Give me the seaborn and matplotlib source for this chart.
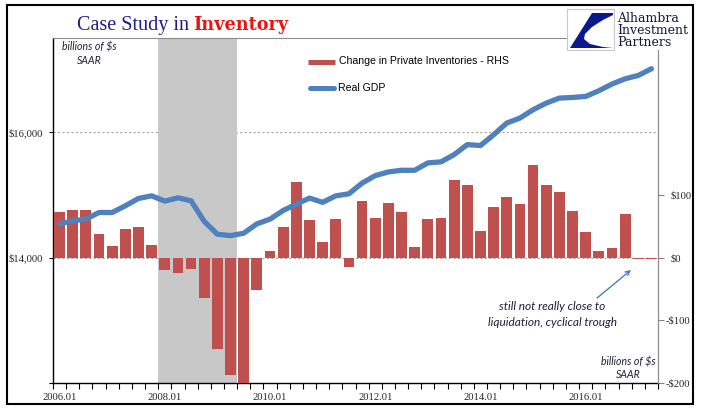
import numpy as np
import pandas as pd
import matplotlib
matplotlib.use("Agg")
import matplotlib.pyplot as plt
import matplotlib.transforms as mtransforms
import seaborn as sns
from matplotlib.lines import Line2D
from matplotlib.patches import Rectangle, Polygon

# ---------------- data ----------------
quarters = [f"{y}.0{q}" for y in range(2006, 2018) for q in range(1, 5)][:46]
tick_labels = ["2006.01", "2008.01", "2010.01", "2012.01", "2014.01", "2016.01"]

# Change in private inventories, billions of $ SAAR (RHS)
inventories = [73, 76, 76, 38, 19, 46, 48, 20,
               -20, -25, -19, -65, -146, -188, -205, -51,
               11, 49, 120, 60, 25, 62, -15, 90,
               63, 87, 73, 17, 62, 63, 124, 115,
               43, 81, 97, 86, 147, 116, 105, 75,
               41, 11, 15, 69, -2, -2]

# Real GDP, billions of $ SAAR (LHS)
real_gdp = [14537, 14585, 14612, 14718, 14718, 14825, 14942, 14984,
            14900, 14952, 14904, 14575, 14372, 14350, 14388, 14537,
            14612, 14750, 14852, 14948, 14880, 14984, 15016, 15187,
            15306, 15365, 15391, 15391, 15509, 15525, 15641, 15800,
            15786, 15957, 16144, 16223, 16356, 16462, 16542, 16552,
            16568, 16659, 16766, 16850, 16903, 17010]

recession = ("2008.01", "2009.02")

left_ticks = [12000, 14000, 16000]
left_labels = ["", "$14,000", "$16,000"]
right_ticks = [-200, -100, 0, 100]
right_labels = ["-$200", "-$100", "$0", "$100"]

# ---------------- style ----------------
sns.set_style("white")
plt.rcParams["font.family"] = ["Liberation Serif", "DejaVu Serif"]

RED = "#C0504D"
BLUE = "#4F81BD"
NAVY = "#1C1C84"
W, H = 705, 409

def fx(px):
    return px / W

def fy(py):
    return 1 - py / H

fig = plt.figure(figsize=(W / 100, H / 100), dpi=100)
fig.patch.set_facecolor("white")

ax = fig.add_axes([fx(53), fy(383), 605 / W, 345 / H])
ax.set_facecolor("white")

df = pd.DataFrame({"quarter": quarters, "inv": inventories,
                   "gdp": real_gdp, "pos": np.arange(len(quarters))})

# recession shading
r0 = quarters.index(recession[0]) - 0.5
r1 = quarters.index(recession[1]) + 0.5
ax.axvspan(r0, r1, color="#C8C8C8", lw=0, zorder=1)

# dashed gridlines (left-axis 14,000 and 16,000 ~ right 0 and 200)
for yv in (0, 200):
    ax.axhline(yv, color="#A6A6A6", lw=0.8, ls=(0, (2, 2)), zorder=0.5)

sns.barplot(data=df, x="quarter", y="inv", color=RED, saturation=1,
            width=0.82, ax=ax, zorder=3, linewidth=0)

ax.set_xlim(-0.5, len(quarters) - 0.5)
ax.set_ylim(-200, 350)

major_pos = [quarters.index(t) for t in tick_labels]
ax.set_xticks(major_pos)
ax.set_xticklabels(tick_labels)
ax.set_xticks(np.arange(-0.5, len(quarters), 1), minor=True)
ax.tick_params(axis="x", which="major", length=0, labelsize=7.7, pad=7)
ax.tick_params(axis="x", which="minor", length=4, width=0.8,
               color="black", direction="out", bottom=True)
ax.set_xlabel("")
ax.set_ylabel("")

for s in ("top", "right"):
    ax.spines[s].set_visible(False)
ax.spines["left"].set_color("black")
ax.spines["left"].set_linewidth(1.0)
ax.spines["bottom"].set_color("black")
ax.spines["bottom"].set_linewidth(1.0)

# GDP line on left axis
ax2 = ax.twinx()
sns.lineplot(data=df, x="pos", y="gdp", ax=ax2, color=BLUE, lw=3.8,
             solid_capstyle="round", zorder=5)
ax2.set_ylim(12000, 17500)
ax2.set_xlim(-0.5, len(quarters) - 0.5)
ax2.set_xlabel("")
ax2.set_ylabel("")
for s in ax2.spines.values():
    s.set_visible(False)

# axis placement after twinx: bars axis on the right, GDP axis on the left
ax.yaxis.tick_right()
ax.yaxis.set_label_position("right")
ax.set_yticks(right_ticks)
ax.set_yticklabels(right_labels)
ax.tick_params(axis="y", which="both", direction="out", length=4, width=0.8,
               color="#808080", labelsize=7.7, pad=5,
               right=True, left=False, labelright=True, labelleft=False)
# negative labels: minus sign hangs to the left of the "$"
shift = mtransforms.ScaledTranslation(-5 / 100, 0, fig.dpi_scale_trans)
for tick in ax.yaxis.get_major_ticks():
    if tick.label2.get_text().startswith("-"):
        tick.label2.set_transform(tick.label2.get_transform() + shift)

ax2.yaxis.tick_left()
ax2.yaxis.set_label_position("left")
ax2.set_yticks(left_ticks)
ax2.set_yticklabels(left_labels)
ax2.tick_params(axis="y", which="both", direction="out", length=3, width=0.8,
                color="black", labelsize=7.7, pad=4,
                left=True, right=False, labelleft=True, labelright=False)

# manual top and right plot borders (partly hidden by logo)
fig.add_artist(Line2D([fx(53), fx(566)], [fy(38), fy(38)], color="#8C8C8C", lw=0.8))
fig.add_artist(Line2D([fx(658), fx(658)], [fy(50), fy(383)], color="#8C8C8C", lw=0.9))

# outer frame
fig.add_artist(Rectangle((fx(7), fy(404)), 686 / W, 399 / H, transform=fig.transFigure,
                         fill=False, ec="black", lw=1.5))

# title
t1 = fig.text(fx(77), fy(30), "Case Study in", fontsize=14.5, color=NAVY,
              family="Liberation Serif", va="baseline", ha="left")
fig.canvas.draw()
bb = t1.get_window_extent()
fig.text((bb.x1 + 4) / W, fy(30), "Inventory", fontsize=12.7, color="#EE1111",
         family="DejaVu Serif", weight="bold", va="baseline", ha="left")

# legend (manual)
fig.add_artist(Line2D([fx(308), fx(335)], [fy(61.5), fy(61.5)], color=RED, lw=3.6,
                      solid_capstyle="butt"))
fig.text(fx(339), fy(61.5), "Change in Private Inventories - RHS", fontsize=7.6,
         family="Liberation Sans", va="center", ha="left", color="black")
fig.add_artist(Line2D([fx(310), fx(334)], [fy(88), fy(88)], color=BLUE, lw=3.6,
                      solid_capstyle="round"))
fig.text(fx(338), fy(88), "Real GDP", fontsize=7.6, family="Liberation Sans",
         va="center", ha="left", color="black")

# unit notes
note_kw = dict(family="Lato", style="italic", fontsize=7.6, color="#1F1F3A",
               ha="center", va="center")
fig.text(fx(89), fy(47), "billions of $s", **note_kw)
fig.text(fx(89), fy(60), "SAAR", **note_kw)
fig.text(fx(628), fy(362), "billions of $s", **note_kw)
fig.text(fx(628), fy(375), "SAAR", **note_kw)

# annotation
ann_kw = dict(family="Lato", style="italic", fontsize=8.6, color="#1F1F3A",
              ha="center", va="center")
fig.text(fx(552), fy(307), "still not really close to", **ann_kw)
fig.text(fx(552), fy(322), "liquidation, cyclical trough", **ann_kw)
ax.annotate("", xy=(43.45, -19.7), xytext=(40.87, -64.5),
            arrowprops=dict(arrowstyle="->", color="#4A7EBB", lw=1.0,
                            shrinkA=0, shrinkB=0, mutation_scale=8))

# logo
fig.add_artist(Rectangle((fx(567), fy(50)), 47 / W, 41 / H, transform=fig.transFigure,
                         fc="white", ec="#C8C8C8", lw=0.8, zorder=10))
logo_pts = [(592, 13), (613, 13), (613, 15), (603, 20), (592, 27), (585, 34),
            (584, 39), (590, 44), (603, 47), (613, 48), (570, 48)]
fig.add_artist(Polygon([(fx(x), fy(y)) for x, y in logo_pts], closed=True,
                       transform=fig.transFigure, fc="#0A1A8C", ec="none", zorder=11))
fig.text(fx(617), fy(31), "Alhambra\nInvestment\nPartners", fontsize=9.0,
         family="DejaVu Serif", color="#15153F", ha="left", va="center",
         linespacing=0.9, zorder=12)

fig.savefig("out.png", dpi=100)
